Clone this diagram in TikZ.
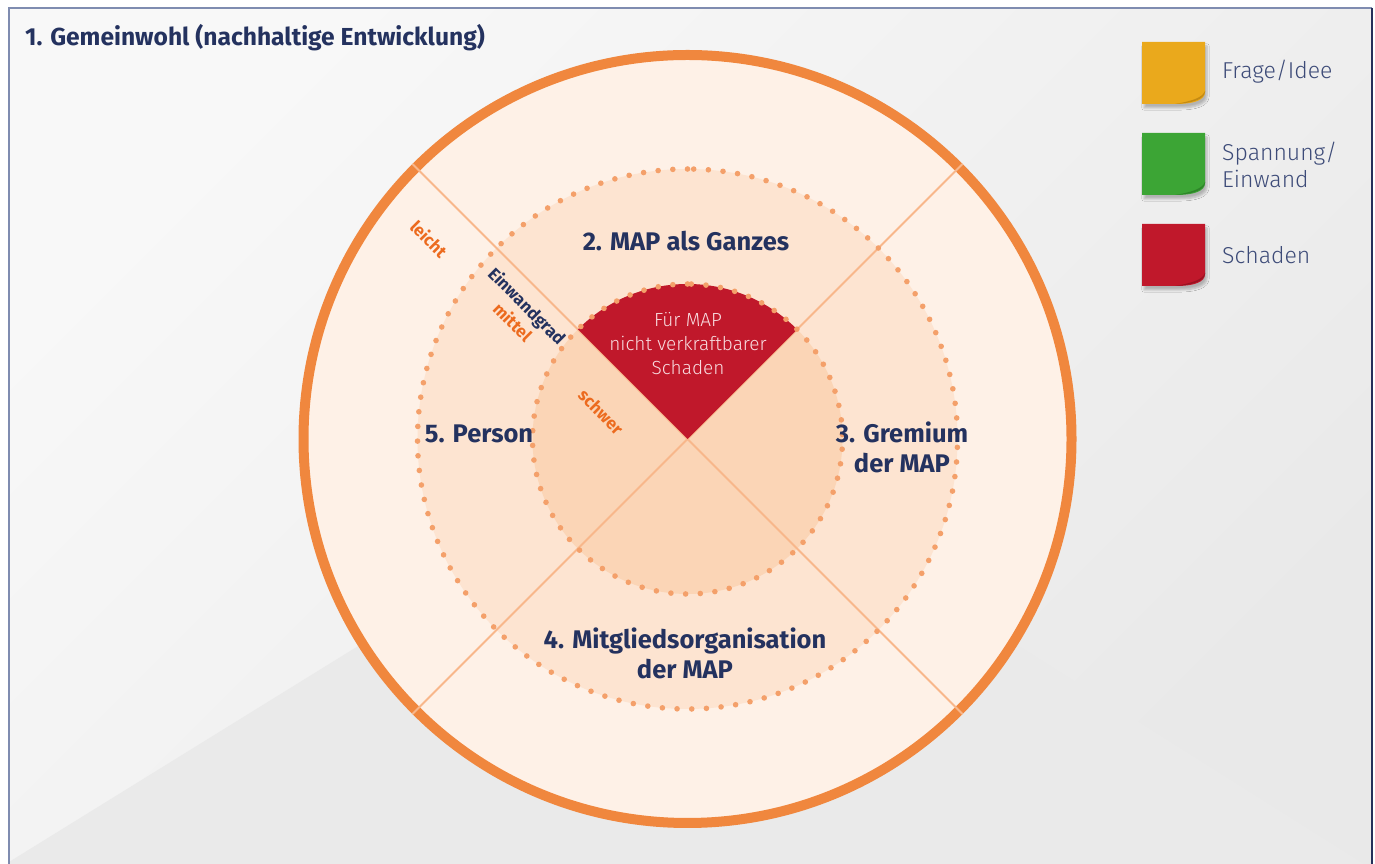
\documentclass[tikz,border=0pt]{standalone}
\usepackage{fontspec}
\setmainfont{Fira Sans}
\newfontfamily\lightfont{Fira Sans Light}
\usetikzlibrary{shadows.blur,calc}
\definecolor{navy}{HTML}{24325F}
\definecolor{legtext}{HTML}{3D4B78}
\definecolor{ringorange}{HTML}{F0873E}
\definecolor{dotc}{HTML}{F4A06A}
\definecolor{linec}{HTML}{F8B78B}
\definecolor{ringA}{HTML}{FEF1E7}
\definecolor{ringB}{HTML}{FDE4D1}
\definecolor{ringC}{HTML}{FBD5B6}
\definecolor{redS}{HTML}{C0182B}
\definecolor{redD}{HTML}{9A1221}
\definecolor{degorange}{HTML}{EC6B1F}
\definecolor{yellowN}{HTML}{EAA91C}
\definecolor{yellowD}{HTML}{C48A12}
\definecolor{greenN}{HTML}{3CA535}
\definecolor{greenD}{HTML}{2E8429}
\definecolor{framec}{HTML}{7F8CB0}
\definecolor{framed}{HTML}{252F5A}
\definecolor{bgA}{HTML}{F8F8F8}
\definecolor{bgB}{HTML}{E9E9E9}
\definecolor{bgDark}{HTML}{EAEAEA}
\definecolor{softwhite}{HTML}{F8DCE0}
\begin{document}
\begin{tikzpicture}[x=1pt,y=1pt,
  lbl/.style={font=\fontsize{25.5}{30}\selectfont\bfseries, text=navy, align=center, inner sep=0},
  deg/.style={font=\fontsize{17}{20}\selectfont\bfseries, text=degorange, rotate=-45, inner sep=0},
  degnavy/.style={deg, text=navy},
  legtxt/.style={font=\lightfont\fontsize{23}{27}\selectfont, text=legtext, anchor=west, align=left, inner sep=0},
  harm/.style={font=\lightfont\fontsize{19}{24}\selectfont, text=softwhite, align=center, inner sep=0},
  ttl/.style={font=\fontsize{24.6}{28}\selectfont\bfseries, text=navy, anchor=west, inner sep=0},
  sectorline/.style={draw=linec, line width=1.8},
  outerring/.style={draw=ringorange, line width=10},
  dotring/.style={draw=dotc, line width=5.6, line cap=round, dash pattern=on 0pt off 14.7pt},
  notecast/.style={blur shadow={shadow xshift=2pt, shadow yshift=-4pt, shadow blur steps=6, shadow opacity=25}}
]
\useasboundingbox (0,0) rectangle (1375,864);
\fill[white] (0,0) rectangle (1375,864);
% panel background
\shade[shading=axis, top color=bgA, bottom color=bgB, shading angle=45] (9,-5) rectangle (1372,856);
\fill[bgDark] (9,-5) -- (9,2) -- (355,216) -- (690,425) -- (1372,-5) -- cycle;
\draw[framec, line width=1.5] (9,-5) -- (9,856) -- (1372,856);
\draw[framed, line width=1.5] (1372,856) -- (1372,-5);

% title
\node[ttl] (title) at (25,826) {1. Gemeinwohl (nachhaltige Entwicklung)};

% circles
\coordinate (C) at (687.5,425);
\fill[ringA] (C) circle[radius=384];
\fill[ringB] (C) circle[radius=270];
\fill[ringC] (C) circle[radius=155];
\draw[outerring] (C) circle[radius=384];
\foreach \a in {45,135,225,315} \draw[sectorline] (C) -- ++(\a:389);
\fill[redS] (C) -- ++(45:155) arc[start angle=45, end angle=135, radius=155] -- cycle;
\draw[dotring] (C) ++(90:270) arc[start angle=90, end angle=450, radius=270];
\draw[dotring] (C) ++(90:155) arc[start angle=90, end angle=450, radius=155];

% region labels
\node[lbl] (l2) at (686,623) {2. MAP als Ganzes};
\node[lbl] (l3) at (902,417) {3. Gremium\\der MAP};
\node[lbl] (l4) at (685,211) {4. Mitgliedsorganisation\\der MAP};
\node[lbl] (l5) at (479,430) {5. Person};
\node[harm] (harm) at (688,520) {Für MAP\\nicht verkraftbarer\\Schaden};

% degree labels
\node[deg] (leicht) at (429,625) {leicht};
\node[degnavy] (grad) at (526,557) {Einwandgrad};
\node[deg] (mittel) at (513,542) {mittel};
\node[deg] (schwer) at (601,452) {schwer};

% legend notes
\foreach \y/\c/\d in {791/yellowN/yellowD, 700/greenN/greenD, 609/redS/redD}{
  \begin{scope}[shift={(1142,\y-31)}]
    \fill[\c, notecast] (0,0) -- (33,0) .. controls (53,0) and (63,4) .. (63,12) -- (63,62) -- (0,62) -- cycle;
    \fill[\d] (63,12) .. controls (62,5) and (52,1) .. (33,0) .. controls (50,3) and (60,6) .. (63,13) -- cycle;
  \end{scope}
}
\node[legtxt] (lg1) at (1222,792) {Frage/Idee};
\node[legtxt, align=left, text width=150] (lg2) at (1222,699) {Spannung/\\Einwand};
\node[legtxt] (lg3) at (1222,609) {Schaden};
\end{tikzpicture}
\end{document}
